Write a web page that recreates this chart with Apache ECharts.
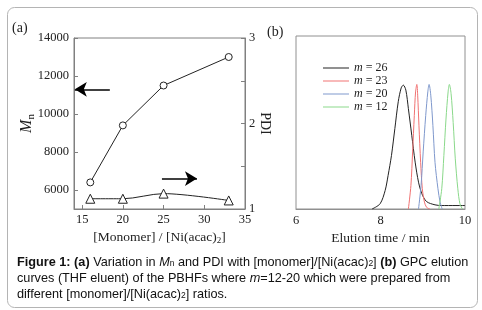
<!DOCTYPE html>
<html>
<head>
<meta charset="utf-8">
<script src="https://cdn.jsdelivr.net/npm/echarts@6/dist/echarts.min.js"></script>
<style>
  html, body { margin: 0; padding: 0; background: #fff; }
  #chart { width: 482px; height: 310px; }
</style>
</head>
<body>
<div id="chart"></div>
<script>
// (a) Mn and PDI vs [monomer]/[Ni(acac)2]
const ratio = [16, 20, 25, 33];
const mn = [6400, 9400, 11500, 13000];
const pdi = [1.12, 1.12, 1.18, 1.10];
const ratioTicks = [15, 20, 25, 30, 35];
const mnTicks = [6000, 8000, 10000, 12000, 14000];

// (b) GPC elution curves
const gpcNames = ["26", "23", "20", "12"];
const gpcColors = ["#222222", "#f07272", "#7f98cc", "#8ad88a"];
const time26 = [7.80, 7.99, 8.11, 8.18, 8.26, 8.34, 8.42, 8.49, 8.54, 8.60, 8.66, 8.74, 8.82, 8.90, 8.98, 9.09, 9.29, 9.45, 10.0];
const sig26 = [0, 0.03, 0.107, 0.194, 0.31, 0.465, 0.62, 0.70, 0.716, 0.687, 0.58, 0.426, 0.271, 0.155, 0.088, 0.043, 0.024, 0.02, 0.02];
const time23 = [8.66, 8.72, 8.76, 8.80, 8.83, 8.86, 8.88, 8.91, 8.95, 8.99, 9.04, 9.09, 9.17];
const sig23 = [0, 0.136, 0.33, 0.54, 0.677, 0.72, 0.658, 0.484, 0.27, 0.117, 0.04, 0.01, 0];
const time20 = [8.90, 8.96, 9.01, 9.07, 9.12, 9.15, 9.19, 9.24, 9.29, 9.36, 9.41, 9.46];
const sig20 = [0, 0.136, 0.33, 0.54, 0.677, 0.72, 0.658, 0.484, 0.27, 0.117, 0.04, 0];
const time12 = [9.38, 9.45, 9.50, 9.55, 9.60, 9.63, 9.67, 9.72, 9.77, 9.83, 9.88, 9.94];
const sig12 = [0, 0.117, 0.31, 0.52, 0.677, 0.72, 0.668, 0.50, 0.29, 0.117, 0.03, 0];

const gpcTimes = [time26, time23, time20, time12];
const gpcSignals = [sig26, sig23, sig20, sig12];

const serif = "Liberation Serif";
const sans = "Liberation Sans";
const frame = "#808080";

let myChart = echarts.init(document.getElementById("chart"));

let zip = (a, b) => a.map((v, i) => [v, b[i]]);
let plain = (v) => String(v);

let gpcSeries = gpcNames.map((n, i) => ({
  name: n,
  type: "line",
  xAxisIndex: 1,
  yAxisIndex: 2,
  data: zip(gpcTimes[i], gpcSignals[i]),
  symbol: "none",
  smooth: 0.3,
  lineStyle: { color: gpcColors[i], width: 1 },
  itemStyle: { color: gpcColors[i] },
  z: 3,
}));

let capRich = {
  b: { fontWeight: "bold", fontFamily: sans, fontSize: 12.7 },
  i: { fontStyle: "italic", fontFamily: sans, fontSize: 12.7 },
  s: { fontFamily: sans, fontSize: 8.5, lineHeight: 10, verticalAlign: "bottom" },
};

let option = {
  animation: false,
  grid: [
    { left: 74, top: 38, width: 171, height: 171, show: true, borderColor: frame, borderWidth: 1 },
    { left: 296, top: 36, width: 169, height: 173, show: true, borderColor: "#909090", borderWidth: 1 },
  ],
  legend: {
    data: gpcNames,
    orient: "vertical",
    left: 323,
    top: 62,
    icon: "rect",
    itemWidth: 26,
    itemHeight: 1,
    itemGap: 1,
    padding: 0,
    formatter: (name) => "{i|m} = " + name,
    textStyle: {
      fontFamily: serif,
      fontSize: 12,
      lineHeight: 12,
      color: "#222",
      rich: { i: { fontStyle: "italic", fontFamily: serif, fontSize: 12, lineHeight: 12 } },
    },
  },
  xAxis: [
    {
      gridIndex: 0,
      type: "value",
      min: 14,
      max: 35,
      name: "[Monomer] / [Ni(acac){s|2}]",
      nameLocation: "middle",
      nameGap: 14,
      nameTextStyle: {
        fontFamily: serif,
        fontSize: 13.5,
        color: "#222",
        rich: { s: { fontFamily: serif, fontSize: 9, verticalAlign: "bottom", lineHeight: 10 } },
      },
      axisLine: { lineStyle: { color: frame } },
      axisTick: { inside: true, length: 4, customValues: ratioTicks, lineStyle: { color: frame } },
      axisLabel: { customValues: ratioTicks, fontFamily: serif, fontSize: 12.5, color: "#222", margin: 4, formatter: plain },
      splitLine: { show: false },
    },
    {
      gridIndex: 1,
      type: "value",
      min: 6,
      max: 10,
      interval: 2,
      name: "Elution time / min",
      nameLocation: "middle",
      nameGap: 20,
      nameTextStyle: { fontFamily: serif, fontSize: 13.5, color: "#222" },
      axisLine: { lineStyle: { color: "#909090" } },
      axisTick: { show: false },
      axisLabel: { fontFamily: serif, fontSize: 12.5, color: "#222", margin: 5, formatter: plain },
      splitLine: { show: false },
    },
  ],
  yAxis: [
    {
      gridIndex: 0,
      type: "value",
      min: 5000,
      max: 14000,
      name: "{i|M}{s|n}",
      nameLocation: "middle",
      nameRotate: 90,
      nameGap: 37,
      nameMoveOverlap: false,
      nameTextStyle: {
        color: "#222",
        rich: {
          i: { fontFamily: serif, fontStyle: "italic", fontSize: 16, lineHeight: 20 },
          s: { fontFamily: serif, fontSize: 11, lineHeight: 12, verticalAlign: "bottom" },
        },
      },
      axisLine: { lineStyle: { color: frame } },
      axisTick: { inside: true, length: 4, customValues: mnTicks, lineStyle: { color: frame } },
      axisLabel: { customValues: mnTicks, fontFamily: serif, fontSize: 12.5, color: "#222", margin: 5, formatter: plain },
      splitLine: { show: false },
    },
    {
      gridIndex: 0,
      type: "value",
      position: "right",
      min: 1,
      max: 3,
      interval: 0.5,
      name: "PDI",
      nameLocation: "middle",
      nameRotate: -90,
      nameGap: 13,
      nameMoveOverlap: false,
      nameTextStyle: { fontFamily: serif, fontSize: 14, color: "#222" },
      axisLine: { show: true, lineStyle: { color: frame } },
      axisTick: { inside: true, length: 4, lineStyle: { color: frame } },
      axisLabel: {
        fontFamily: serif,
        fontSize: 12.5,
        color: "#222",
        margin: 4,
        formatter: (v) => (Number.isInteger(v) ? String(v) : ""),
      },
      splitLine: { show: false },
    },
    {
      gridIndex: 1,
      type: "value",
      min: 0,
      max: 1,
      show: false,
    },
  ],
  series: [
    {
      name: "Mn",
      type: "line",
      xAxisIndex: 0,
      yAxisIndex: 0,
      data: zip(ratio, mn),
      symbol: "circle",
      symbolSize: 7,
      lineStyle: { color: "#222", width: 1 },
      itemStyle: { color: "#fff", borderColor: "#222", borderWidth: 1 },
      markLine: {
        silent: true,
        symbol: ["none", "arrow"],
        symbolSize: [11, 12],
        label: { show: false },
        lineStyle: { color: "#000", width: 1.5, type: "solid" },
        data: [
          [{ coord: [18.4, 11300] }, { coord: [14.1, 11300] }],
          [{ coord: [24.8, 6600] }, { coord: [29.1, 6600] }],
        ],
      },
    },
    {
      name: "PDI",
      type: "line",
      xAxisIndex: 0,
      yAxisIndex: 1,
      data: zip(ratio, pdi),
      symbol: "triangle",
      symbolSize: 9,
      smooth: 0.3,
      lineStyle: { color: "#222", width: 1 },
      itemStyle: { color: "#fff", borderColor: "#222", borderWidth: 1 },
    },
    ...gpcSeries,
  ],
  graphic: [
    {
      type: "rect",
      shape: { x: 7.5, y: 7.5, width: 470, height: 300, r: 7 },
      style: { fill: "none", stroke: "#b4b4b4", lineWidth: 1 },
      silent: true,
    },
    {
      type: "text",
      x: 12,
      y: 28,
      style: { text: "(a)", font: "14px " + serif, fill: "#222", verticalAlign: "middle" },
    },
    {
      type: "text",
      x: 267,
      y: 32,
      style: { text: "(b)", font: "14px " + serif, fill: "#222", verticalAlign: "middle" },
    },
    {
      type: "text",
      x: 17,
      y: 262,
      style: {
        text: "{b|Figure 1: (a)} Variation in {i|M}{s|n} and PDI with [monomer]/[Ni(acac){s|2}] {b|(b)} GPC elution",
        font: "12.7px " + sans,
        fill: "#111",
        verticalAlign: "middle",
        rich: capRich,
      },
    },
    {
      type: "text",
      x: 17,
      y: 278,
      style: {
        text: "curves (THF eluent) of the PBHFs where {i|m}=12-20 which were prepared from",
        font: "12.7px " + sans,
        fill: "#111",
        verticalAlign: "middle",
        rich: capRich,
      },
    },
    {
      type: "text",
      x: 17,
      y: 294,
      style: {
        text: "different [monomer]/[Ni(acac){s|2}] ratios.",
        font: "12.7px " + sans,
        fill: "#111",
        verticalAlign: "middle",
        rich: capRich,
      },
    },
  ],
};

myChart.setOption(option);
</script>
</body>
</html>
